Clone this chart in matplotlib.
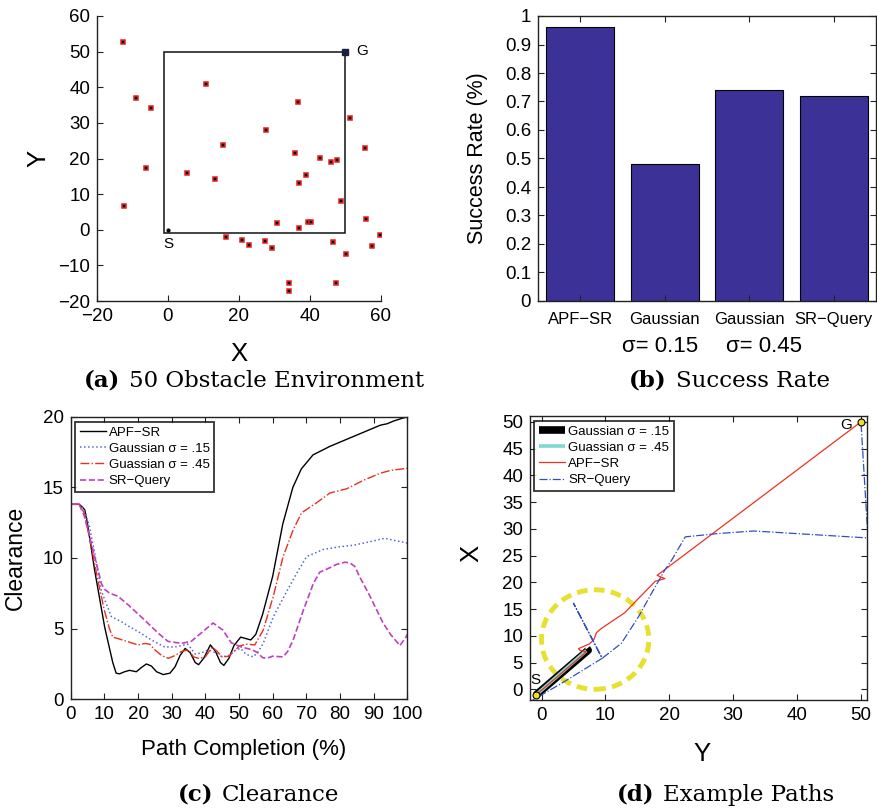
import numpy as np
import matplotlib
matplotlib.use("Agg")
import matplotlib.pyplot as plt
from matplotlib.patches import Ellipse, Rectangle

plt.rcParams['font.family'] = ['Liberation Sans', 'DejaVu Sans']
plt.rcParams['axes.unicode_minus'] = True

# ---------------- (a) obstacle environment ----------------
obs_x = [-12.7, -9.0, -4.9, -6.2, -12.3, 10.7, 15.5, 5.3, 13.3, 27.5, 36.7, 35.8, 42.9,
         45.9, 47.5, 38.9, 37.0, 48.8, 51.3, 55.6, 55.9, 59.7, 57.5, 50.2, 46.5, 47.2,
         34.0, 34.0, 30.7, 36.8, 39.3, 40.4, 16.2, 20.8, 22.9, 27.2, 29.3]
obs_y = [52.8, 37.0, 34.3, 17.2, 6.7, 40.8, 23.8, 15.8, 14.2, 27.9, 35.8, 21.6, 20.1,
         19.0, 19.5, 15.4, 13.2, 8.2, 31.4, 23.0, 3.1, -1.6, -4.5, -6.7, -3.3, -14.9,
         -14.9, -17.1, 1.8, 0.4, 2.2, 2.2, -1.9, -2.9, -4.4, -3.1, -5.0]
env_box = [-1, -1, 51, 51]   # x0, y0, width, height
start_a = (0, 0)
goal_a = (50, 50)

# ---------------- (b) success rate ----------------
methods = ['APF\u2212SR', 'Gaussian', 'Gaussian', 'SR\u2212Query']
sigma_labels = ['', '\u03c3= 0.15', '\u03c3= 0.45', '']
success = [0.96, 0.48, 0.74, 0.72]

# ---------------- (c) clearance ----------------
apf_x = [0, 2.5, 3.5, 4.2, 5, 7.1, 10.1, 12.5, 13.5, 14.5, 16, 17.5, 19.5, 21, 22.5, 24, 25.5,
         27.5, 29.5, 31, 32.5, 34, 35.5, 37, 38, 39.5, 41.5, 43, 44.5, 45.5, 47, 48.5, 50.5,
         52, 53.5, 55, 57, 60, 63, 66, 68.5, 72, 77, 79, 81, 84, 87, 90, 92, 94, 96, 100]
apf_y = [13.8, 13.8, 13.6, 13.4, 12.4, 9.15, 5.1, 2.6, 1.85, 1.8, 1.95, 2.05, 1.95, 2.25, 2.5,
         2.35, 1.95, 1.75, 1.85, 2.3, 3.1, 3.6, 3.3, 2.6, 2.45, 2.9, 3.85, 3.4, 2.6, 2.4, 2.9,
         3.8, 4.4, 4.3, 4.2, 4.6, 6.0, 8.7, 12.4, 15.0, 16.3, 17.3, 17.9, 18.1, 18.3, 18.6,
         18.9, 19.2, 19.4, 19.5, 19.7, 20.0]

g15_x = [0, 2.5, 4, 5.5, 7, 9.1, 10.5, 12.1, 15, 17, 20, 24, 27.9, 30.9, 34.8, 37, 39, 41, 43,
         45, 47, 49, 50.5, 52, 54.2, 55.5, 57.2, 60.2, 64.1, 67.1, 70.1, 75, 80, 83.9, 88.9,
         93.3, 96, 99.3, 100]
g15_y = [13.8, 13.8, 13.4, 12.3, 10.5, 7.7, 6.8, 5.85, 5.5, 5.2, 4.8, 4.2, 3.7, 3.7, 3.9, 3.2,
         3.3, 3.5, 3.3, 3.0, 3.1, 3.5, 3.6, 3.2, 3.0, 3.3, 3.96, 5.85, 7.6, 8.9, 10.1, 10.6,
         10.8, 10.9, 11.15, 11.4, 11.25, 11.1, 11.05]

g45_x = [0, 2.5, 4, 6, 8, 10, 11.5, 12.5, 14, 16, 18, 20, 22, 23.5, 25, 27, 29, 31, 33, 35,
         36.5, 38, 40, 42, 43.5, 45, 47, 49, 50, 52, 54.7, 57.2, 60.2, 63.1, 66.1, 68.6, 73,
         77, 82, 87, 92, 95, 100]
g45_y = [13.8, 13.8, 13.2, 11.0, 8.5, 6.3, 5.0, 4.4, 4.3, 4.15, 4.0, 3.85, 3.95, 3.9, 3.5,
         3.1, 2.9, 3.1, 3.4, 3.5, 3.0, 2.9, 3.0, 3.7, 3.4, 3.0, 3.05, 3.5, 3.75, 3.9, 3.85,
         4.9, 7.3, 10.1, 12.0, 13.2, 13.9, 14.6, 14.9, 15.5, 16.0, 16.2, 16.35]

srq_x = [0, 2.5, 4, 6.6, 9.1, 10, 11.6, 14, 17, 22, 25.9, 28.9, 32.9, 35.8, 38.8, 42.3, 45.2,
         47.7, 50.7, 54, 55.5, 57, 58.2, 60, 63.1, 64.5, 66.1, 69.1, 72.1, 74, 76, 79, 81.5,
         83, 84.4, 86, 88.9, 92.8, 95, 97.8, 99.6, 100]
srq_y = [13.8, 13.8, 13.0, 10.6, 8.2, 7.8, 7.5, 7.3, 6.7, 5.6, 4.7, 4.1, 3.96, 4.1, 4.7, 5.4,
         4.9, 4.0, 3.7, 3.5, 3.3, 2.95, 2.9, 3.05, 3.0, 3.4, 4.2, 6.3, 8.2, 9.0, 9.2, 9.55,
         9.7, 9.65, 9.4, 8.6, 7.3, 5.4, 4.6, 3.8, 4.4, 4.6]

# ---------------- (d) example paths ----------------
p15_x = [-0.9, 7.3, 7.1]
p15_y = [-1.1, 7.3, 7.6]
p45_x = [-0.9, 7.0]
p45_y = [-1.1, 7.2]
papf_x = [-0.9, 7.0, 6.0, 5.8, 7.5, 8.2, 8.6, 9.4, 13.0, 17.8, 19.3, 18.1, 50.0]
papf_y = [-1.1, 7.0, 7.3, 7.6, 8.5, 9.3, 10.6, 11.4, 14.3, 20.2, 20.7, 21.3, 50.0]
psrq_x = [-2.2, 3.1, 9.5, 5.0, 9.5, 12.5, 15.2, 17.2, 19.3, 20.4, 22.5, 27.4, 33.2, 51.1, 50.0]
psrq_y = [-2.6, 1.1, 5.8, 16.1, 5.8, 8.6, 13.6, 17.9, 22.3, 24.2, 28.5, 29.1, 29.6, 28.3, 50.0]
circle_center = (8.4, 9.3)
circle_size = (16.8, 18.6)
start_d = (-0.9, -1.1)
goal_d = (50, 50)

W, H = 878, 810
fig = plt.figure(figsize=(W / 100, H / 100), dpi=100)

def px_axes(l, r, t, b):
    return fig.add_axes([l / W, 1 - b / H, (r - l) / W, (b - t) / H])

TICK = 13.5
LAB = 15.5

def style(ax, box=True):
    ax.tick_params(direction='in', labelsize=TICK, length=4, width=0.8, pad=5,
                   top=box, right=box, colors='#222222', labelcolor='black')
    for s in ax.spines.values():
        s.set_linewidth(1.0)
        s.set_color('#222222')
    if not box:
        ax.spines['top'].set_visible(False)
        ax.spines['right'].set_visible(False)

# ---- (a)
axa = px_axes(97, 381, 16, 301)
axa.add_patch(Rectangle((env_box[0], env_box[1]), env_box[2], env_box[3], fill=False,
                        ec='#111111', lw=1.1))
axa.plot(obs_x, obs_y, 's', ms=3.3, mfc='black', mec='#e82020', mew=1.1, ls='none')
axa.plot(*start_a, 'o', ms=2, color='black')
axa.plot(*goal_a, 's', ms=4.5, mfc='#1a2040', mec='#1a2040')
axa.text(goal_a[0] + 3, goal_a[1] + 0.3, 'G', fontsize=11, va='center', ha='left')
axa.text(start_a[0], start_a[1] - 4.1, 'S', fontsize=11, va='center', ha='center')
axa.set_xlim(-20, 60)
axa.set_ylim(-20, 60)
axa.set_xticks([-20, 0, 20, 40, 60])
axa.set_yticks(np.arange(-20, 61, 10))
style(axa, box=False)
axa.set_xlabel('X', fontsize=LAB + 3)
axa.set_ylabel('Y', fontsize=LAB + 3)
axa.xaxis.set_label_coords(0.5, -0.145)
axa.yaxis.set_label_coords(-0.165, 0.5)

# ---- (b)
axb = px_axes(538, 876, 16, 301)
pos = np.arange(1, len(success) + 1)
axb.bar(pos, success, width=0.8, color='#3b3196', edgecolor='black', lw=0.8)
axb.set_xlim(0.5, 4.5)
axb.set_ylim(0, 1)
axb.set_yticks(np.arange(0, 1.01, 0.1))
axb.set_yticklabels(['0'] + ['%.1f' % v for v in np.arange(0.1, 0.95, 0.1)] + ['1'])
axb.set_xticks(pos)
axb.set_xticklabels(methods)
style(axb)
axb.tick_params(axis='x', labelsize=12, pad=8)
sigma_shift = {1: -0.06, 2: 0.17}
for i, (p, s) in enumerate(zip(pos, sigma_labels)):
    if s:
        axb.text(p + sigma_shift.get(i, 0), -0.158, s, transform=axb.get_xaxis_transform(),
                 ha='center', va='center', fontsize=16)
axb.set_ylabel('Success Rate (%)', fontsize=LAB)
axb.yaxis.set_label_coords(-0.148, 0.5)

# ---- (c)
axc = px_axes(70.7, 407.3, 416.7, 699.3)
axc.plot(apf_x, apf_y, '-', color='black', lw=1.0, label='APF\u2212SR')
axc.plot(g15_x, g15_y, ':', color='#5565e0', lw=1.1, label='Gaussian \u03c3 = .15')
axc.plot(g45_x, g45_y, '-.', color='#e8301e', lw=1.0, label='Guassian \u03c3 = .45')
axc.plot(srq_x, srq_y, '--', color='#c040c0', lw=1.2, label='SR\u2212Query')
axc.set_xlim(0, 100)
axc.set_ylim(0, 20)
axc.set_xticks(np.arange(0, 101, 10))
axc.set_yticks([0, 5, 10, 15, 20])
style(axc)
axc.set_xlabel('Path Completion (%)', fontsize=LAB + 0.5)
axc.set_ylabel('Clearance', fontsize=LAB + 1)
axc.xaxis.set_label_coords(0.513, -0.14)
axc.yaxis.set_label_coords(-0.13, 0.5)
legc = axc.legend(loc='upper left', bbox_to_anchor=(0.013, 0.982), fontsize=9.5, frameon=True,
                  fancybox=False, edgecolor='black', handlelength=2.0, handletextpad=0.2,
                  borderpad=0.35, labelspacing=0.3, borderaxespad=0)
legc.get_frame().set_linewidth(1.3)

# ---- (d)
axd = px_axes(530, 866.7, 416, 700)
axd.add_patch(Ellipse(circle_center, circle_size[0], circle_size[1], fill=False,
                      ec='#e8e030', lw=3.5, ls=(0, (2.2, 1.3))))
axd.plot(p15_x, p15_y, '-', color='black', lw=5.5, solid_capstyle='butt',
         label='Gaussian \u03c3 = .15')
axd.plot(p45_x, p45_y, '-', color='#7fd8d0', lw=2.6, solid_capstyle='butt',
         label='Guassian \u03c3 = .45')
axd.plot(papf_x, papf_y, '-', color='#f03020', lw=0.9, label='APF\u2212SR')
axd.plot(psrq_x, psrq_y, '-.', color='#3050c0', lw=0.9, label='SR\u2212Query')
axd.plot(*start_d, 'o', ms=5, mfc='#f0e020', mec='black', mew=0.8)
axd.plot(*goal_d, 'o', ms=5, mfc='#f0e020', mec='black', mew=0.8)
axd.text(start_d[0], start_d[1] + 2.8, 'S', fontsize=11, ha='center', va='center')
axd.text(goal_d[0] - 2.3, goal_d[1] - 0.6, 'G', fontsize=11, ha='center', va='center')
axd.set_xlim(-1.8, 50.9)
axd.set_ylim(-2.0, 51.1)
axd.set_xticks(np.arange(0, 51, 10))
axd.set_yticks(np.arange(0, 51, 5))
style(axd)
axd.set_xlabel('Y', fontsize=LAB + 3)
axd.set_ylabel('X', fontsize=LAB + 3)
axd.xaxis.set_label_coords(0.51, -0.147)
axd.yaxis.set_label_coords(-0.139, 0.516)
legd = axd.legend(loc='upper left', bbox_to_anchor=(0.013, 0.983), fontsize=9.5, frameon=True,
                  fancybox=False, edgecolor='black', handlelength=2.0, handletextpad=0.2,
                  borderpad=0.35, labelspacing=0.3, borderaxespad=0)
legd.get_frame().set_linewidth(1.3)

# ---- captions
CAP = 16.5
serif = ['DejaVu Serif']
captions = [((120, 381), '(a)', '50 Obstacle Environment'),
            ((667, 381), '(b)', 'Success Rate'),
            ((213, 795), '(c)', 'Clearance'),
            ((654, 795), '(d)', 'Example Paths')]
for (x, y), tag, txt in captions:
    fig.text(x / W, 1 - y / H, tag, ha='right', va='center', fontsize=CAP, fontweight='bold',
             family=serif)
    fig.text((x + 9) / W, 1 - y / H, txt, ha='left', va='center', fontsize=CAP, family=serif)

fig.savefig('out.png', dpi=100)
